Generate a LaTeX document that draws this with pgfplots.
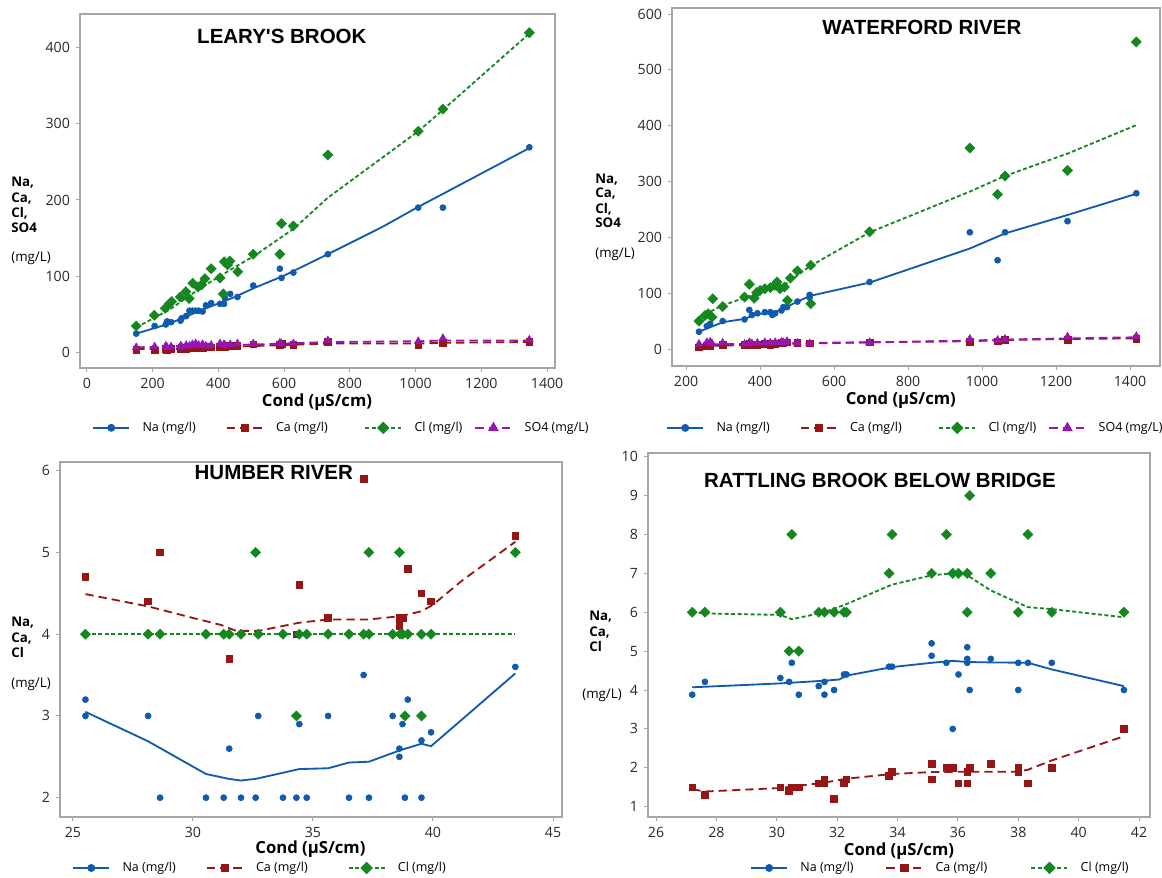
\documentclass[border=0pt]{standalone}
\usepackage{fontspec}
\setmainfont{Open Sans}
\newfontfamily\titlefont{Liberation Sans}
\usepackage{pgfplots}
\pgfplotsset{compat=1.18}
\definecolor{naC}{RGB}{16,90,175}
\definecolor{caC}{RGB}{150,22,22}
\definecolor{clC}{RGB}{22,135,32}
\definecolor{soC}{RGB}{150,22,180}
\definecolor{frameC}{RGB}{165,165,165}
\definecolor{tickC}{RGB}{40,40,40}
\pgfplotsset{
  naline/.style={naC, line width=1.1pt, solid},
  caline/.style={caC, line width=1.1pt, dash pattern=on 5pt off 3pt},
  clline/.style={clC, line width=1.1pt, dash pattern=on 2.4pt off 1.5pt},
  soline/.style={soC, line width=1.1pt, dash pattern=on 5pt off 3pt},
  namark/.style={only marks, mark=*, mark size=1.8pt, color=naC, mark options={solid, draw=naC, fill=naC}},
  camark/.style={only marks, mark=square*, mark size=2pt, color=caC, mark options={solid, draw=caC, fill=caC}},
  clmark/.style={only marks, mark=square*, mark size=2.1pt, color=clC, mark options={solid, rotate=45, draw=clC, fill=clC}},
  somark/.style={only marks, mark=triangle*, mark size=2.6pt, color=soC, mark options={solid, draw=soC, fill=soC}},
  panel/.style={
    scale only axis, anchor=south west,
    axis line style={frameC, line width=0.7pt},
    tick style={frameC, line width=0.6pt},
    tick align=outside, major tick length=2.5pt,
    tick pos=left,
    /pgf/number format/assume math mode=true,
    /pgf/number format/1000 sep={},
    scaled ticks=false,
    tick label style={font=\fontsize{8.5}{9.5}\selectfont, text=tickC},
    xlabel={Cond (µS/cm)},
    xlabel style={font=\fontsize{10}{12}\selectfont\bfseries, anchor=center},
    legend columns=4,
    legend style={draw=none, fill=none, inner sep=0pt, anchor=west,
      font=\fontsize{7.5}{9}\selectfont, cells={anchor=west},
      /tikz/every odd column/.append style={column sep=5.4pt},
      /tikz/every even column/.append style={column sep=0pt}},
    legend image code/.code={\draw[mark repeat=2, mark phase=2, ##1] plot coordinates {(0pt,0pt) (10.8pt,0pt) (21.6pt,0pt)};},
  },
}
\newcommand{\lab}[2]{\makebox[#1][l]{#2}}
\begin{document}
\begin{tikzpicture}
\path[use as bounding box] (0,0) rectangle (697.2pt,526.8pt);

% ---------- LEARY'S BROOK ----------
\begin{axis}[panel, at={(48pt,306pt)}, width=285pt, height=212.4pt,
  xmin=-21, xmax=1424, ymin=-20, ymax=443.6,
  xtick={0,200,...,1400}, ytick={0,100,...,400},
  xlabel style={at={(axis description cs:0.499,-0.096)}},
  legend style={at={(0.0253,-0.169)}}]
\addlegendimage{naline, mark=*, mark size=1.8pt, mark options={solid, fill=naC}}
\addlegendentry{\lab{48pt}{Na (mg/l)}}
\addlegendimage{caline, mark=square*, mark size=2pt, mark options={solid, fill=caC}}
\addlegendentry{\lab{51pt}{Ca (mg/l)}}
\addlegendimage{clline, mark=square*, mark size=2.1pt, mark options={solid, rotate=45, fill=clC}}
\addlegendentry{\lab{34pt}{Cl (mg/l)}}
\addlegendimage{soline, mark=triangle*, mark size=2.6pt, mark options={solid, fill=soC}}
\addlegendentry{SO4 (mg/L)}
\addplot[naline, forget plot] coordinates {(150,25)(250,38)(350,56)(450,73)(510,85)(600,101)(733,129)(900,165)(1008,191)(1083,208)(1346,268)};
\addplot[namark, forget plot] coordinates {(150,25)(206,35)(240,37)(244,41)(256,40)(285,42)(288,45)(302,48)(312,55)(321,55)(331,55)(340,55)(352,54)(362,62)(378,65)(405,64)(417,64)(420,71)(436,77)(458,73)(506,88)(587,110)(592,98)(628,105)(733,129)(1008,190)(1083,190)(1346,269)};
\addplot[caline, forget plot] coordinates {(150,5)(300,5)(450,8)(600,10)(733,12)(1008,12)(1083,13)(1346,14)};
\addplot[camark, forget plot] coordinates {(150,4)(206,3)(240,5)(244,4)(256,5)(285,5)(288,6)(302,5)(312,6)(321,7)(331,6)(340,7)(352,6)(362,8)(378,7)(405,8)(417,9)(420,8)(436,9)(458,9)(506,11)(587,10)(592,12)(628,10)(733,14)(1008,10)(1083,13)(1346,14)};
\addplot[clline, forget plot] coordinates {(150,33)(250,56)(350,86)(450,112)(510,127)(631,163)(733,203)(1008,290)(1083,318)(1346,418)};
\addplot[clmark, forget plot] coordinates {(150,35)(205,49)(238,58)(250,64)(258,67)(284,73)(301,80)(311,71)(322,91)(338,86)(349,89)(359,97)(378,110)(405,98)(415,77)(418,119)(428,115)(435,120)(459,106)(506,129)(587,129)(592,169)(628,166)(733,259)(1008,290)(1083,319)(1346,419)};
\addplot[soline, forget plot] coordinates {(150,7)(300,9)(450,10)(600,12)(733,14)(1008,15)(1083,16)(1346,16)};
\addplot[somark, forget plot] coordinates {(150,7)(206,8)(240,9)(244,7)(256,8)(285,9)(288,8)(302,10)(312,9)(321,11)(331,12)(340,10)(352,11)(362,9)(378,10)(405,12)(417,11)(420,10)(436,11)(458,12)(506,12)(587,13)(592,12)(628,12)(733,16)(1008,15)(1083,19)(1346,17)};
\node[font=\titlefont\fontsize{12.3}{14}\selectfont\bfseries] at (rel axis cs:0.425,0.937) {LEARY'S BROOK};
\end{axis}

% ---------- WATERFORD RIVER ----------
\begin{axis}[panel, at={(403.2pt,307.2pt)}, width=292.8pt, height=214.8pt,
  xmin=162, xmax=1481, ymin=-30.4, ymax=610.8,
  xtick={200,400,...,1400}, ytick={0,100,...,600},
  xlabel style={at={(axis description cs:0.469,-0.095)}},
  legend style={at={(-0.0123,-0.173)}}]
\addlegendimage{naline, mark=*, mark size=1.8pt, mark options={solid, fill=naC}}
\addlegendentry{\lab{48pt}{Na (mg/l)}}
\addlegendimage{caline, mark=square*, mark size=2pt, mark options={solid, fill=caC}}
\addlegendentry{\lab{51pt}{Ca (mg/l)}}
\addlegendimage{clline, mark=square*, mark size=2.1pt, mark options={solid, rotate=45, fill=clC}}
\addlegendentry{\lab{34pt}{Cl (mg/l)}}
\addlegendimage{soline, mark=triangle*, mark size=2.6pt, mark options={solid, fill=soC}}
\addlegendentry{SO4 (mg/L)}
\addplot[naline, forget plot] coordinates {(235,31)(299,48)(358,54)(393,63)(433,64)(473,76)(534,95)(696,119)(967,180)(1062,207)(1231,240)(1417,278)};
\addplot[namark, forget plot] coordinates {(235,31)(256,41)(265,45)(299,50)(358,53)(371,70)(378,61)(393,64)(413,66)(428,66)(433,61)(441,64)(458,69)(463,75)(473,75)(501,85)(534,97)(534,92)(696,120)(967,209)(1042,159)(1062,209)(1231,229)(1417,279)};
\addplot[caline, forget plot] coordinates {(235,5)(400,8)(534,10)(696,12)(967,14)(1062,16)(1231,18)(1417,19)};
\addplot[camark, forget plot] coordinates {(235,3)(256,6)(265,5)(299,7)(358,7)(371,9)(378,8)(393,8)(413,9)(428,8)(433,10)(441,9)(458,11)(463,10)(473,12)(501,11)(534,10)(696,12)(967,13)(1042,14)(1062,16)(1231,16)(1417,18)};
\addplot[clline, forget plot] coordinates {(235,57)(299,78)(393,100)(473,118)(534,148)(696,209)(967,282)(1062,310)(1231,350)(1417,401)};
\addplot[clmark, forget plot] coordinates {(235,50)(251,60)(260,63)(270,57)(272,90)(299,76)(358,93)(371,116)(384,91)(391,101)(400,105)(413,108)(428,110)(440,114)(446,120)(454,108)(466,111)(474,87)(482,127)(501,140)(537,150)(537,81)(696,210)(967,360)(1042,277)(1062,310)(1231,320)(1417,550)};
\addplot[soline, forget plot] coordinates {(235,8)(400,10)(534,11)(696,12)(967,15)(1062,17)(1231,19)(1417,21)};
\addplot[somark, forget plot] coordinates {(235,9)(256,12)(265,13)(270,10)(299,11)(358,9)(371,12)(378,10)(393,11)(413,12)(428,11)(441,12)(458,13)(463,12)(473,14)(501,11)(534,10)(696,12)(967,18)(1042,16)(1062,18)(1231,22)(1417,23)};
\node[font=\titlefont\fontsize{12.3}{14}\selectfont\bfseries] at (rel axis cs:0.512,0.946) {WATERFORD RIVER};
\end{axis}

% ---------- HUMBER RIVER ----------
\begin{axis}[panel, at={(36pt,36.6pt)}, width=301.2pt, height=213pt,
  xmin=24.46, xmax=45.375, ymin=1.764, ymax=6.106,
  xtick={25,30,...,45}, ytick={2,3,...,6},
  xlabel style={at={(axis description cs:0.499,-0.09)}},
  legend style={at={(0.024,-0.1437)}}]
\addlegendimage{naline, mark=*, mark size=1.8pt, mark options={solid, fill=naC}}
\addlegendentry{\lab{48pt}{Na (mg/l)}}
\addlegendimage{caline, mark=square*, mark size=2pt, mark options={solid, fill=caC}}
\addlegendentry{\lab{53pt}{Ca (mg/l)}}
\addlegendimage{clline, mark=square*, mark size=2.1pt, mark options={solid, rotate=45, fill=clC}}
\addlegendentry{Cl (mg/l)}
\addplot[naline, forget plot] coordinates {(25.52,3.05)(28.13,2.69)(30.54,2.29)(31.5,2.23)(32.0,2.21)(32.61,2.23)(34.43,2.35)(35.63,2.36)(36.5,2.43)(37.33,2.44)(38.63,2.58)(39.52,2.66)(39.92,2.63)(43.43,3.52)};
\addplot[namark, forget plot] coordinates {(25.52,3.2)(25.52,3.0)(28.13,3.0)(28.63,2.0)(30.54,2.0)(31.28,2.0)(31.51,2.6)(32.0,2.0)(32.61,2.0)(32.72,3.0)(33.75,2.0)(34.31,2.0)(34.43,2.9)(34.74,2.0)(35.63,3.0)(36.5,2.0)(37.11,3.5)(37.33,2.0)(38.32,3.0)(38.6,2.6)(38.6,2.5)(38.73,2.9)(38.83,2.0)(38.95,3.2)(39.52,2.7)(39.52,2.0)(39.92,2.8)(43.43,3.6)};
\addplot[caline, forget plot] coordinates {(25.52,4.49)(28.13,4.34)(29.98,4.2)(31.2,4.11)(31.8,4.04)(32.72,4.04)(34.43,4.14)(35.63,4.18)(37.33,4.18)(38.63,4.22)(39.52,4.28)(40.0,4.36)(41.23,4.66)(43.43,5.13)};
\addplot[camark, forget plot] coordinates {(25.52,4.7)(28.13,4.4)(28.63,5.0)(31.51,3.7)(34.31,4.0)(34.43,4.6)(35.63,4.2)(37.11,5.9)(38.6,4.2)(38.73,4.2)(38.6,4.1)(38.95,4.8)(39.52,4.5)(39.92,4.4)(43.43,5.2)};
\addplot[clline, forget plot] coordinates {(25.52,4)(43.43,4)};
\addplot[clmark, forget plot] coordinates {(25.52,4)(28.13,4)(28.63,4)(30.54,4)(31.28,4)(31.51,4)(32.0,4)(32.61,5)(32.72,4)(33.75,4)(34.31,3)(34.43,4)(34.74,4)(35.63,4)(36.5,4)(37.11,4)(37.33,4)(37.33,5)(38.32,4)(38.6,5)(38.63,4)(38.73,4)(38.95,4)(38.83,3)(39.52,4)(39.52,3)(39.92,4)(43.43,5)};
\node[font=\titlefont\fontsize{12.3}{14}\selectfont\bfseries] at (rel axis cs:0.426,0.97) {HUMBER RIVER};
\end{axis}

% ---------- RATTLING BROOK BELOW BRIDGE ----------
\begin{axis}[panel, at={(388.8pt,36.6pt)}, width=301.2pt, height=218.4pt,
  xmin=25.735, xmax=42.364, ymin=0.735, ymax=10.095,
  xtick={26,28,...,42}, ytick={1,2,...,10},
  xlabel style={at={(axis description cs:0.5,-0.0926)}},
  legend style={at={(0.203,-0.14)}}]
\addlegendimage{naline, mark=*, mark size=1.8pt, mark options={solid, fill=naC}}
\addlegendentry{\lab{49pt}{Na (mg/l)}}
\addlegendimage{caline, mark=square*, mark size=2pt, mark options={solid, fill=caC}}
\addlegendentry{\lab{55pt}{Ca (mg/l)}}
\addlegendimage{clline, mark=square*, mark size=2.1pt, mark options={solid, rotate=45, fill=clC}}
\addlegendentry{Cl (mg/l)}
\addplot[naline, forget plot] coordinates {(27.2,4.07)(30.12,4.17)(31.58,4.24)(32.07,4.27)(32.31,4.37)(33.82,4.59)(35.13,4.7)(35.83,4.75)(36.31,4.72)(37.09,4.71)(38.32,4.7)(39.11,4.53)(41.5,4.1)};
\addplot[namark, forget plot] coordinates {(27.2,3.88)(27.62,4.21)(30.12,4.31)(30.41,4.21)(30.5,4.7)(30.73,3.88)(31.39,4.1)(31.58,4.21)(31.58,3.88)(31.9,4.0)(32.23,4.4)(32.31,4.4)(33.72,4.6)(33.82,4.6)(35.13,5.2)(35.13,4.88)(35.62,4.7)(35.83,3.0)(36.02,4.4)(36.31,5.1)(36.31,4.8)(36.31,4.7)(36.39,4.0)(37.09,4.8)(38.0,4.7)(38.0,4.0)(38.32,4.7)(39.11,4.7)(41.5,4.0)};
\addplot[caline, forget plot] coordinates {(27.2,1.45)(27.62,1.39)(30.12,1.48)(31.58,1.62)(32.31,1.72)(33.82,1.84)(35.13,1.89)(36.31,1.9)(38.0,1.9)(38.32,1.95)(39.11,2.19)(41.5,2.81)};
\addplot[camark, forget plot] coordinates {(27.2,1.5)(27.62,1.3)(30.12,1.5)(30.41,1.4)(30.5,1.5)(30.73,1.5)(31.39,1.6)(31.58,1.6)(31.58,1.7)(31.9,1.2)(32.23,1.6)(32.31,1.7)(33.72,1.8)(33.82,1.9)(35.13,2.1)(35.13,1.7)(35.62,2.0)(35.83,2.0)(36.02,1.6)(36.31,1.6)(36.31,1.9)(36.39,2.0)(37.09,2.1)(38.0,2.0)(38.0,1.9)(38.32,1.6)(39.11,2.0)(41.5,3.0)};
\addplot[clline, forget plot] coordinates {(27.2,6.0)(27.62,5.97)(30.12,5.93)(30.5,5.82)(31.58,6.0)(32.31,6.21)(33.82,6.71)(35.13,6.95)(35.83,7.0)(36.31,6.95)(37.09,6.56)(38.32,6.13)(39.11,6.08)(41.5,5.87)};
\addplot[clmark, forget plot] coordinates {(27.2,6)(27.62,6)(30.12,6)(30.5,8)(30.41,5)(30.73,5)(31.39,6)(31.58,6)(31.9,6)(32.23,6)(32.31,6)(33.72,7)(33.82,8)(35.13,7)(35.62,8)(35.83,7)(36.02,7)(36.31,7)(36.31,6)(36.39,9)(37.09,7)(38.0,6)(38.32,8)(39.11,6)(41.5,6)};
\node[font=\titlefont\fontsize{12.3}{14}\selectfont\bfseries] at (rel axis cs:0.462,0.924) {RATTLING BROOK BELOW BRIDGE};
\end{axis}

% ---------- y-axis labels ----------
\begin{scope}[every node/.style={anchor=west, inner sep=0pt, font=\fontsize{8}{9}\selectfont}]
\node[font=\fontsize{8}{9}\selectfont\bfseries] at (6.6pt,417pt) {Na,};
\node[font=\fontsize{8}{9}\selectfont\bfseries] at (6.6pt,407.4pt) {Ca,};
\node[font=\fontsize{8}{9}\selectfont\bfseries] at (6.6pt,399pt) {Cl,};
\node[font=\fontsize{8}{9}\selectfont\bfseries] at (6.6pt,390pt) {SO4};
\node at (6.6pt,372pt) {(mg/L)};
\node[font=\fontsize{8}{9}\selectfont\bfseries] at (357pt,418.8pt) {Na,};
\node[font=\fontsize{8}{9}\selectfont\bfseries] at (357pt,410.4pt) {Ca,};
\node[font=\fontsize{8}{9}\selectfont\bfseries] at (357pt,401.4pt) {Cl,};
\node[font=\fontsize{8}{9}\selectfont\bfseries] at (357pt,393pt) {SO4};
\node at (357pt,374.4pt) {(mg/L)};
\node[font=\fontsize{8}{9}\selectfont\bfseries] at (6.6pt,153pt) {Na,};
\node[font=\fontsize{8}{9}\selectfont\bfseries] at (6.6pt,143.4pt) {Ca,};
\node[font=\fontsize{8}{9}\selectfont\bfseries] at (6.6pt,135pt) {Cl};
\node at (6.6pt,116.4pt) {(mg/L)};
\node[font=\fontsize{8}{9}\selectfont\bfseries] at (353.4pt,156.6pt) {Na,};
\node[font=\fontsize{8}{9}\selectfont\bfseries] at (353.4pt,147pt) {Ca,};
\node[font=\fontsize{8}{9}\selectfont\bfseries] at (353.4pt,138.6pt) {Cl};
\node at (349.2pt,109.8pt) {(mg/L)};
\end{scope}
\end{tikzpicture}
\end{document}
